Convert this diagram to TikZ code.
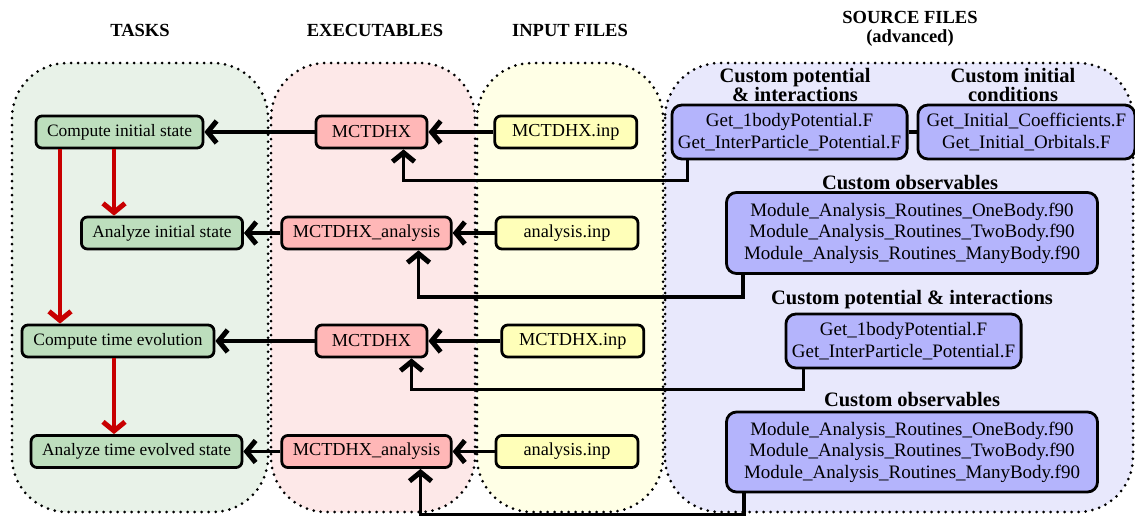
\documentclass[tikz,border=0pt]{standalone}
\usepackage{fontspec}
\setmainfont{Liberation Serif}
\usepackage{tikz}
\usetikzlibrary{arrows.meta}
\usetikzlibrary{positioning}
\definecolor{taskbg}{RGB}{232,242,232}
\definecolor{taskfill}{RGB}{189,222,189}
\definecolor{exebg}{RGB}{253,232,232}
\definecolor{exefill}{RGB}{255,183,183}
\definecolor{inpbg}{RGB}{255,255,230}
\definecolor{inpfill}{RGB}{255,255,185}
\definecolor{srcbg}{RGB}{232,232,252}
\definecolor{srcfill}{RGB}{180,180,252}
\definecolor{flowred}{RGB}{200,0,0}
\newcommand\us{\symbol{95}}
\newcommand\potfiles{Get\us 1bodyPotential.F\\Get\us InterParticle\us Potential.F}
\newcommand\routines[1]{Module\us Analysis\us Routines\us #1.f90}

\begin{document}
\begin{tikzpicture}[
x=1pt, y=-1pt,
node distance=40pt,
region/.style={
  draw,
  line width=3pt,
  dash pattern=on 0pt off 7pt,
  line cap=round,
  rounded corners=55pt},
box/.style={
  draw,
  line width=2.8pt,
  rounded corners=6pt,
  font=\fontsize{17.4}{21.5}\selectfont,
  minimum height=32pt,
  inner xsep=11pt,
  align=center},
task/.style={box, fill=taskfill},
exe/.style={box, fill=exefill, font=\fontsize{18.3}{21.5}\selectfont, minimum width=111pt},
inp/.style={box, fill=inpfill, font=\fontsize{18.3}{21.5}\selectfont, minimum width=142pt},
src/.style={box, fill=srcfill, font=\fontsize{19}{21.5}\selectfont, rounded corners=10pt, inner xsep=6pt},
title/.style={font=\fontsize{18.5}{19}\selectfont\bfseries, align=center},
subtitle/.style={font=\fontsize{20.5}{19.5}\selectfont\bfseries, align=center, inner sep=0pt},
conn/.style={line width=3.8pt, -{Straight Barb[length=9pt,width=22pt,line width=5pt]}},
flow/.style={conn, flowred}
]
\useasboundingbox (0,0) rectangle (1135,515);

% columns
\draw[region, fill=taskbg] (12,63) rectangle (268,512);
\draw[region, fill=exebg] (271,63) rectangle (475,512);
\draw[region, fill=inpbg] (477,63) rectangle (663,512);
\draw[region, fill=srcbg] (665,63) rectangle (1133,512);

\node[title] at (140,30) {TASKS};
\node[title] at (375,30) {EXECUTABLES};
\node[title] at (570,30) {INPUT FILES};
\node[title] at (910,29) {SOURCE FILES\\(advanced)};

% tasks
\node[task] (cis) at (119.5,132) {Compute initial state};
\node[task] (ais) at (162,233) {Analyze initial state};
\node[task, minimum width=192pt] (cte) at (118,341) {Compute time evolution};
\node[task] (ates) at (136.5,451.5) {Analyze time evolved state};

% executables
\node[exe] (exe1) at (371.5,132) {MCTDHX};
\node[exe] (exa1) at (366.5,233) {MCTDHX\us analysis};
\node[exe] (exe2) at (371.5,341) {MCTDHX};
\node[exe] (exa2) at (366.5,451.5) {MCTDHX\us analysis};

% input files
\node[inp, right=65pt of exe1] (inp1) {MCTDHX.inp};
\node[inp, right=42pt of exa1] (ana1) {analysis.inp};
\node[inp, right=72pt of exe2] (inp2) {MCTDHX.inp};
\node[inp, right=42pt of exa2] (ana2) {analysis.inp};

% source files
\node[subtitle] at (795,85) {Custom potential\\\& interactions};
\node[subtitle] at (1013,85) {Custom initial\\conditions};
\node[src, minimum width=235pt, minimum height=54pt] (potA) at (789.5,132) {\potfiles};
\node[src, minimum width=217pt, minimum height=54pt, right=8pt of potA] (init) {Get\us Initial\us Coefficients.F\\Get\us Initial\us Orbitals.F};
\node[subtitle] at (910,183) {Custom observables};
\node[src, minimum width=371pt, minimum height=81pt] (obs1) at (912,233) {\routines{OneBody}\\\routines{TwoBody}\\\routines{ManyBody}};
\node[subtitle] at (912,300) {Custom potential \& interactions};
\node[src, minimum width=235pt, minimum height=54pt] (potB) at (903.5,341) {\potfiles};
\node[subtitle] at (912,400) {Custom observables};
\node[src, minimum width=371pt, minimum height=80pt] (obs2) at (912,452) {\routines{OneBody}\\\routines{TwoBody}\\\routines{ManyBody}};

\draw[line width=3.8pt] (potA) -- (init);

% arrows
\draw[conn] (inp1) -- (exe1);
\draw[conn] (exe1) -- (cis);
\draw[conn] (ana1) -- (exa1);
\draw[conn] (exa1) -- (ais);
\draw[conn] (inp2) -- (exe2);
\draw[conn] (exe2) -- (cte);
\draw[conn] (ana2) -- (exa2);
\draw[conn] (exa2) -- (ates);
\draw[conn] ([xshift=-102pt]potA.south) -- ++(0,20) -| ([xshift=32pt]exe1.south);
\draw[conn] ([xshift=-169pt]obs1.south) -- ++(0,22) -| ([xshift=52pt]exa1.south);
\draw[conn] ([xshift=-100pt]potB.south) -- ++(0,20) -| ([xshift=40pt]exe2.south);
\draw[conn] ([xshift=-168pt]obs2.south) -- ++(0,21) -| ([xshift=54pt]exa2.south);

\draw[flow] ([xshift=-59.5pt]cis.south) -- ([xshift=-59.5pt]cis.south |- cte.north);
\draw[flow] ([xshift=-5.5pt]cis.south) -- ([xshift=-5.5pt]cis.south |- ais.north);
\draw[flow] ([xshift=-4pt]cte.south) -- ([xshift=-4pt]cte.south |- ates.north);
\end{tikzpicture}
\end{document}
